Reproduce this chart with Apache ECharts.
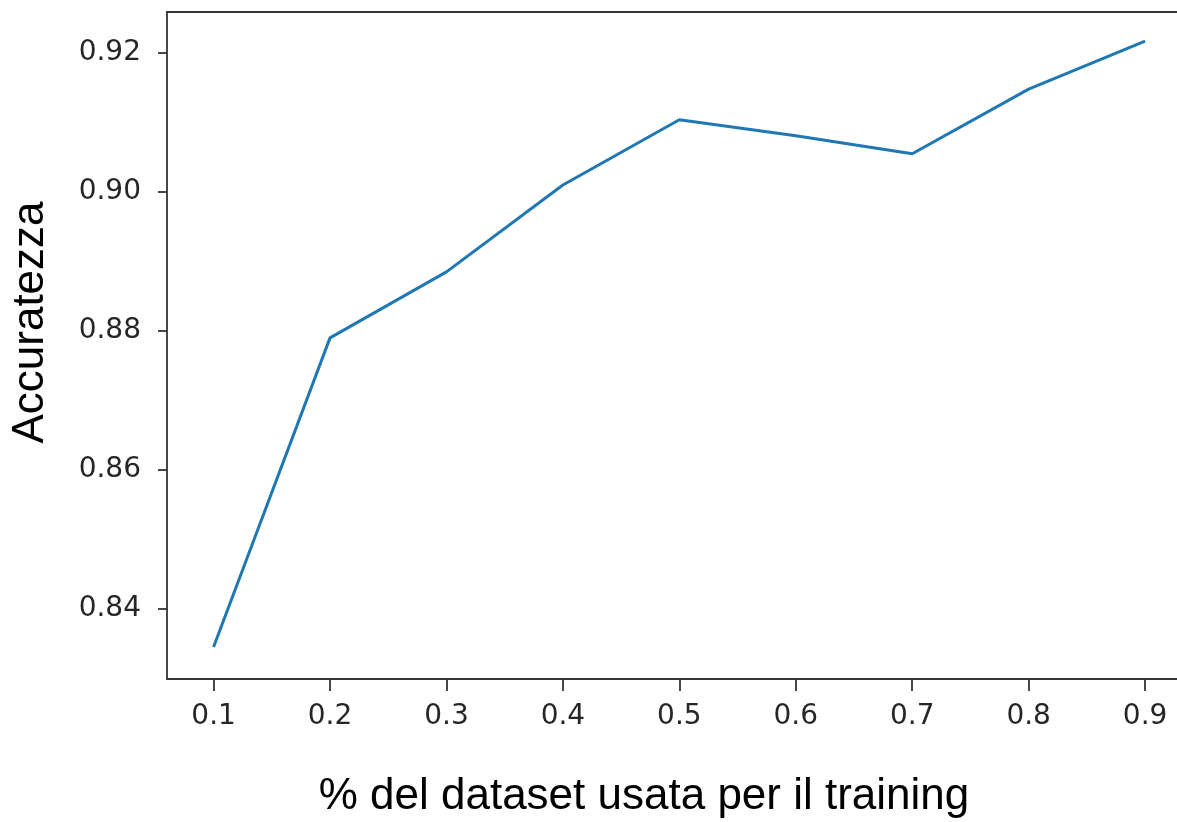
<!DOCTYPE html>
<html>
<head>
<meta charset="utf-8">
<script src="https://cdn.jsdelivr.net/npm/echarts@6/dist/echarts.min.js"></script>
<style>
html,body{margin:0;padding:0;background:#fff;}
#chart{width:1177px;height:822px;}
</style>
</head>
<body>
<div id="chart"></div>
<script>
// Data
const trainFractions = [0.1, 0.2, 0.3, 0.4, 0.5, 0.6, 0.7, 0.8, 0.9];
const accuracy = [0.8345, 0.8790, 0.8885, 0.9010, 0.9104, 0.9081, 0.9055, 0.9148, 0.9217];
const xTicks = [0.1, 0.2, 0.3, 0.4, 0.5, 0.6, 0.7, 0.8, 0.9];
const yTicks = [0.84, 0.86, 0.88, 0.90, 0.92];
const xTitle = '% del dataset usata per il training';
const yTitle = 'Accuratezza';

const chart = echarts.init(document.getElementById('chart'));
const tickFont = {fontFamily: 'DejaVu Sans', fontSize: 28, color: '#262626'};
const spine = {color: '#333', width: 1.8};
chart.setOption({
  animation: false,
  backgroundColor: '#ffffff',
  grid: {left: 167, top: 12, right: 0, height: 667, show: false, containLabel: false, outerBoundsMode: 'none'},
  xAxis: [{
    type: 'value',
    min: 0.06, max: 0.9274,
    name: xTitle,
    nameLocation: 'middle',
    nameGap: 96,
    nameTextStyle: {fontFamily: 'Liberation Sans', fontSize: 44, color: '#000', padding: [0, 56, 0, 0]},
    axisLine: {show: true, onZero: false, lineStyle: spine},
    axisTick: {show: true, length: 12, customValues: xTicks, lineStyle: spine},
    axisLabel: Object.assign({margin: 24, customValues: xTicks, formatter: v => v.toFixed(1)}, tickFont),
    splitLine: {show: false}
  }, {
    type: 'value', position: 'top',
    min: 0.06, max: 0.9274,
    axisLine: {show: true, onZero: false, lineStyle: spine},
    axisTick: {show: false}, axisLabel: {show: false}, splitLine: {show: false}
  }],
  yAxis: {
    type: 'value',
    min: 0.8299, max: 0.9259,
    name: yTitle,
    nameLocation: 'middle',
    nameGap: 114,
    nameRotate: 90,
    nameTextStyle: {fontFamily: 'Liberation Sans', fontSize: 44, color: '#000', padding: [0, 0, 0, 46]},
    axisLine: {show: true, onZero: false, lineStyle: spine},
    axisTick: {show: true, length: 9, customValues: yTicks, lineStyle: spine},
    axisLabel: Object.assign({margin: 26, customValues: yTicks, formatter: v => v.toFixed(2)}, tickFont),
    splitLine: {show: false}
  },
  series: [{
    type: 'line',
    xAxisIndex: 0,
    data: trainFractions.map((x, i) => [x, accuracy[i]]),
    showSymbol: false,
    lineStyle: {color: '#1f77b4', width: 3},
    itemStyle: {color: '#1f77b4'}
  }]
});
</script>
</body>
</html>
